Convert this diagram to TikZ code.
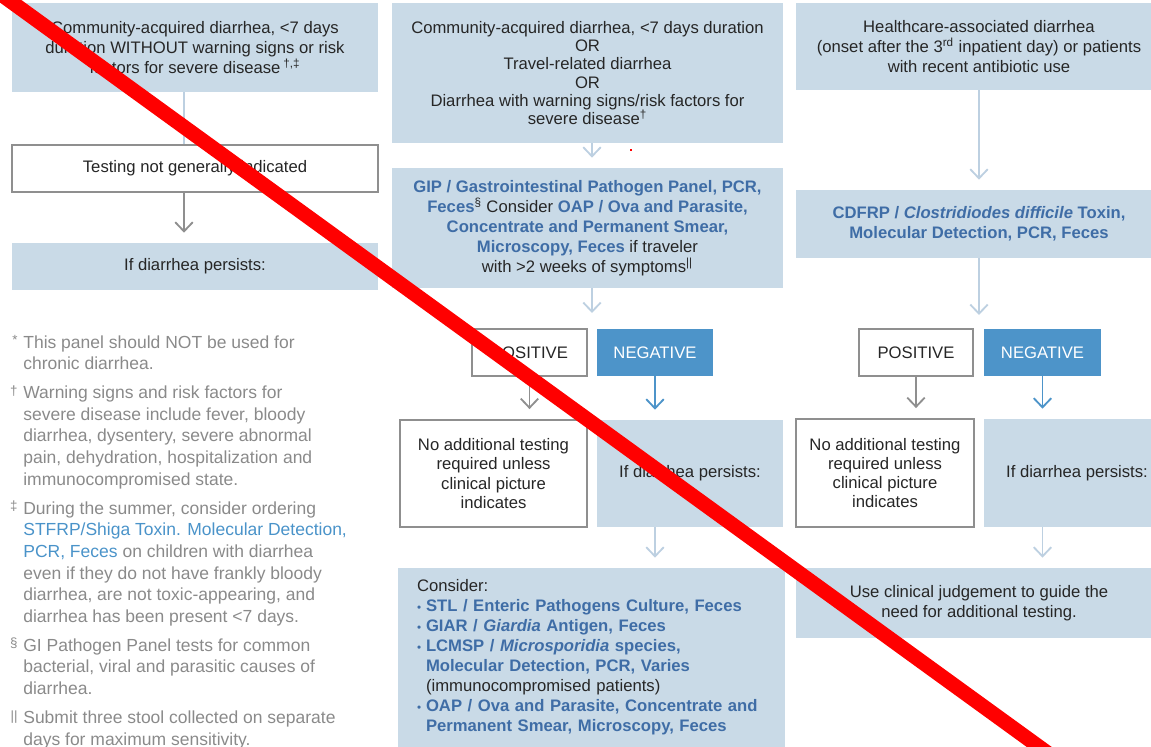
\documentclass[tikz,border=0pt]{standalone}
\usepackage{fontspec}
\setmainfont{Liberation Sans}
\usetikzlibrary{arrows.meta}

\definecolor{boxfill}{HTML}{C9DAE7}
\definecolor{negfill}{HTML}{4D94C9}
\definecolor{testblue}{HTML}{3F6DA6}
\definecolor{noteblue}{HTML}{4A93C9}
\definecolor{notegray}{HTML}{8A8A8A}
\definecolor{edgegray}{HTML}{8F8F8F}
\definecolor{linkblue}{HTML}{BDD0E1}
\definecolor{txtdark}{HTML}{262626}

\newcommand{\tb}[1]{\textcolor{testblue}{\bfseries #1}}
\newcommand{\nb}[1]{\textcolor{noteblue}{#1}}
\newcommand{\fnmark}[1]{\llap{\raisebox{0.35ex}{\fontsize{8}{8}\selectfont #1}\hspace{3.5pt}}}
\newcommand{\itm}{\makebox[5.4pt][l]{\textcolor{testblue}{\fontsize{7}{7}\selectfont\textbullet}}}

\begin{document}
\begin{tikzpicture}[x=0.6pt, y=-0.6pt,
  every node/.style={inner sep=0pt, align=center, text=txtdark},
  boxsize/.style 2 args={minimum width=#1*0.6pt, minimum height=#2*0.6pt},
  fs/.style={font=\fontsize{10}{#1}\selectfont},
  lbox/.style={fill=boxfill, fs=12},
  wbox/.style={fill=white, draw=edgegray, line width=1.1pt, fs=11.5},
  nbox/.style={fill=negfill, text=white, fs=12},
  link/.style={draw=linkblue, line width=1.1pt, shorten >=6pt, -{Straight Barb[length=5.5pt, width=10.5pt]}},
  glink/.style={link, draw=edgegray},
  blink/.style={link, draw=negfill}]
  \useasboundingbox (0,0) rectangle (1151,747);

  \node[lbox, boxsize={366}{89}] (comA) at (195,47.5)
    {Community-acquired diarrhea, <7 days\\duration WITHOUT warning signs or risk\\factors for severe disease\,\textsuperscript{†,‡}};
  \node[wbox, boxsize={366}{47}] (notest) at (195,168.5) {Testing not generally indicated};
  \node[lbox, boxsize={366}{47}] (persA) at (195,266.5) {If diarrhea persists:};
  \coordinate (lx) at (184,0);
  \draw[draw=linkblue, line width=1.1pt] (comA.south -| lx) -- (notest.north -| lx);
  \draw[glink] (notest.south -| lx) -- (persA.north -| lx);

  \node[anchor=north west, align=left, text=notegray, font=\fontsize{10.5}{13}\selectfont] (notes) at (23,335)
    {\fnmark{*}This panel should NOT be used for\\
     chronic diarrhea.\\[4.3pt]
     \fnmark{†}Warning signs and risk factors for\\
     severe disease include fever, bloody\\
     diarrhea, dysentery, severe abnormal\\
     pain, dehydration, hospitalization and\\
     immunocompromised state.\\[4.3pt]
     \fnmark{‡}During the summer, consider ordering\\
     \nb{STFRP/Shiga Toxin. Molecular Detection,}\\
     \nb{PCR, Feces} on children with diarrhea\\
     even if they do not have frankly bloody\\
     diarrhea, are not toxic-appearing, and\\
     diarrhea has been present <7 days.\\[4.3pt]
     \fnmark{§}GI Pathogen Panel tests for common\\
     bacterial, viral and parasitic causes of\\
     diarrhea.\\[4.3pt]
     \fnmark{||}Submit three stool collected on separate\\
     days for maximum sensitivity.};

  \node[lbox, fs=11, boxsize={391}{140}] (comB) at (587.5,73)
    {Community-acquired diarrhea, <7 days duration\\OR\\Travel-related diarrhea\\OR\\Diarrhea with warning signs/risk factors for\\severe disease\textsuperscript{†}};
  \node[lbox, boxsize={391}{120}] (gip) at (587.5,228)
    {\tb{GIP / Gastrointestinal Pathogen Panel, PCR,}\\
     \tb{Feces}\textsuperscript{§} Consider \tb{OAP / Ova and Parasite,}\\
     \tb{Concentrate and Permanent Smear,}\\
     \tb{Microscopy, Feces} if traveler\\
     with >2 weeks of symptoms\textsuperscript{||}};
  \node[wbox, boxsize={115}{47}] (posB) at (529.5,352.5) {POSITIVE};
  \node[nbox, boxsize={116}{47}] (negB) at (655,352.5) {NEGATIVE};
  \node[wbox, boxsize={187}{107}] (noaddB) at (493.5,473.5)
    {No additional testing\\required unless\\clinical picture\\indicates};
  \node[lbox, boxsize={186}{107}] (persB) at (690,473.5) {If diarrhea persists:};
  \node[lbox, align=left, text width=209.4pt, inner xsep=11.4pt, minimum height=107.4pt] (consB) at (591.5,657.5)
    {Consider:\\
     \itm\tb{STL / Enteric Pathogens Culture, Feces}\\
     \itm\tb{GIAR / \textit{Giardia} Antigen, Feces}\\
     \itm\tb{LCMSP / \textit{Microsporidia} species,}\\
     \hspace*{5.4pt}\tb{Molecular Detection, PCR, Varies}\\
     \hspace*{5.4pt}(immunocompromised patients)\\
     \itm\tb{OAP / Ova and Parasite, Concentrate and}\\
     \hspace*{5.4pt}\tb{Permanent Smear, Microscopy, Feces}};
  \coordinate (splitB) at (592,323);
  \draw[link] (comB.south -| splitB) -- (gip.north -| splitB);
  \draw[link] (gip.south -| splitB) -- (splitB);
  \draw[glink] (posB.south) -- (posB.south |- noaddB.north);
  \draw[blink] (negB.south) -- (negB.south |- persB.north);
  \draw[link] (persB.south -| negB) -- (consB.north -| negB);

  \node[lbox, boxsize={366}{87}] (hcA) at (979,46.5)
    {Healthcare-associated diarrhea\\(onset after the 3\textsuperscript{rd} inpatient day) or patients\\with recent antibiotic use};
  \node[lbox, boxsize={366}{68}] (cdf) at (979,224)
    {\tb{CDFRP / \textit{Clostridiodes difficile} Toxin,}\\\tb{Molecular Detection, PCR, Feces}};
  \node[wbox, boxsize={114}{47}] (posC) at (916,352.5) {POSITIVE};
  \node[nbox, boxsize={117}{47}] (negC) at (1042.5,352.5) {NEGATIVE};
  \node[wbox, boxsize={178}{108}] (noaddC) at (885,473)
    {No additional testing\\required unless\\clinical picture\\indicates};
  \node[lbox, boxsize={186}{108}] (persC) at (1077,473) {If diarrhea persists:};
  \node[lbox, boxsize={366}{70}] (useC) at (979,603)
    {Use clinical judgement to guide the\\need for additional testing.};
  \coordinate (splitC) at (979,325);
  \draw[link] (hcA.south) -- (cdf.north);
  \draw[link] (cdf.south) -- (splitC);
  \draw[glink] (posC.south) -- (posC.south |- noaddC.north);
  \draw[blink] (negC.south) -- (negC.south |- persC.north);
  \draw[link] (persC.south -| negC) -- (useC.north -| negC);

  \begin{scope}
    \clip (0,0) rectangle (1151,747);
    \draw[red, line width=8.8pt] (-10,-13.7) -- (1060,762);
  \end{scope}
  \fill[red] (630,149) rectangle (632,151);
\end{tikzpicture}
\end{document}
